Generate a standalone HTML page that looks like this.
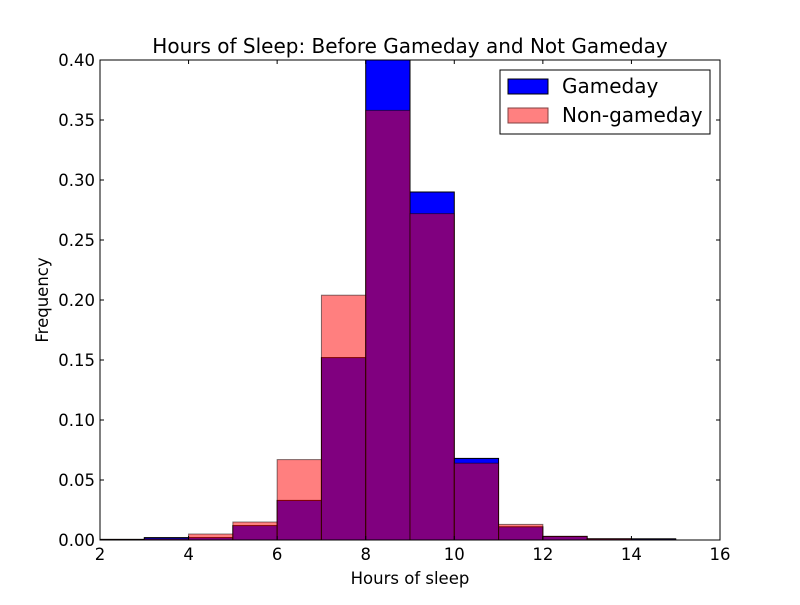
<!DOCTYPE html>
<html><head><meta charset="utf-8"><style>
body{margin:0;background:#fff;width:800px;height:600px;overflow:hidden}
text{font-family:"DejaVu Sans","Liberation Sans",sans-serif}
</style></head><body>
<svg id="chart" width="800" height="600" xmlns="http://www.w3.org/2000/svg"></svg>
<script>
const binStarts=[2,3,4,5,6,7,8,9,10,11,12,13,14];
const gameday=[0.0005,0.002,0.002,0.012,0.033,0.152,0.400,0.290,0.068,0.011,0.003,0.001,0.001];
const nonGameday=[0.0005,0.001,0.005,0.015,0.067,0.204,0.358,0.272,0.064,0.013,0.003,0.001,0.0005];
const xTicks=[2,4,6,8,10,12,14,16];
const yTicks=[0,0.05,0.10,0.15,0.20,0.25,0.30,0.35,0.40];
const L=100,R=720,T=60,B=540;
const X=v=>L+(v-2)/14*(R-L);
const Y=v=>B-v/0.4*(B-T);
const svg=document.getElementById('chart');
const NS='http://www.w3.org/2000/svg';
function mk(tag,attrs,parent){const e=document.createElementNS(NS,tag);for(const k in attrs)e.setAttribute(k,attrs[k]);(parent||svg).appendChild(e);return e;}
function bars(vals,fill,op,name){
  vals.forEach((v,i)=>{
    const x0=X(binStarts[i]),x1=X(binStarts[i]+1),y=Y(v);
    const r=mk('rect',{x:x0,y:y,width:x1-x0,height:B-y,fill:fill,'fill-opacity':op,stroke:'#000','stroke-opacity':op,'stroke-width':1});
    
    
  });
}
bars(gameday,'#0000ff',1,'gameday');
bars(nonGameday,'#ff0000',0.5,'non-gameday');
const f=mk('rect',{x:L,y:T,width:R-L,height:B-T,fill:'none',stroke:'#000','stroke-width':1});


xTicks.forEach(t=>{
  const x=X(t);
  mk('line',{x1:x,x2:x,y1:B,y2:B-4,stroke:'#000'});
  mk('line',{x1:x,x2:x,y1:T,y2:T+4,stroke:'#000'});
  const tx=mk('text',{x:x,y:B+20,'text-anchor':'middle','font-size':16.5});
  tx.textContent=t;
  
  
});
yTicks.forEach(t=>{
  const y=Y(t);
  mk('line',{x1:L,x2:L+4,y1:y,y2:y,stroke:'#000'});
  mk('line',{x1:R,x2:R-4,y1:y,y2:y,stroke:'#000'});
  const tx=mk('text',{x:L-5,y:y+6,'text-anchor':'end','font-size':16.5});
  tx.textContent=t.toFixed(2);
  
  
});
</script>
<svg style="position:absolute;left:0;top:0" width="800" height="600">
<text x="410" y="53" text-anchor="middle" font-size="20">Hours of Sleep: Before Gameday and Not Gameday</text>
<text x="410" y="584" text-anchor="middle" font-size="16.5">Hours of sleep</text>
<text transform="translate(48,300) rotate(-90)" text-anchor="middle" font-size="16.5">Frequency</text>
<g>
<rect x="500" y="70" width="210" height="64" fill="#fff" stroke="#000"/>
<rect x="508" y="79" width="40" height="15" fill="#0000ff" stroke="#000"/>
<text x="562" y="93" font-size="20">Gameday</text>
<rect x="508" y="108" width="40" height="15" fill="#ff8080" stroke="#804040"/>
<text x="562" y="122" font-size="20">Non-gameday</text>
</g>
</svg>
</body></html>
